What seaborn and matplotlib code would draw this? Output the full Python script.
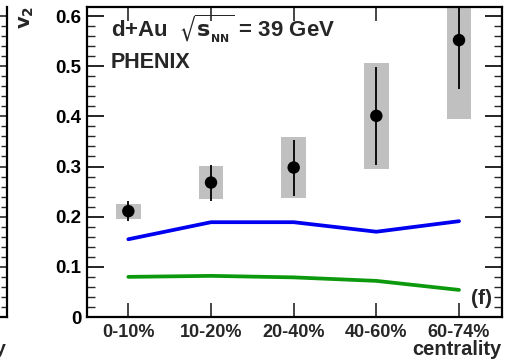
import matplotlib
matplotlib.use("Agg")
import matplotlib.pyplot as plt
import matplotlib.ticker as ticker
import seaborn as sns
import numpy as np
import pandas as pd

# data
centrality = ["0-10%", "10-20%", "20-40%", "40-60%", "60-74%"]
v2 = [0.211, 0.268, 0.298, 0.401, 0.552]
stat_lo = [0.191, 0.232, 0.241, 0.303, 0.454]
stat_hi = [0.232, 0.303, 0.353, 0.499, 0.650]
sys_lo = [0.196, 0.236, 0.238, 0.296, 0.394]
sys_hi = [0.225, 0.301, 0.359, 0.506, 0.710]
model_blue = [0.155, 0.189, 0.189, 0.170, 0.191]
model_green = [0.080, 0.082, 0.079, 0.072, 0.054]

xpos = np.arange(len(centrality))
df = pd.DataFrame({"x": xpos, "v2": v2, "blue": model_blue, "green": model_green})

sns.set_theme(style="ticks")
plt.rcParams["font.family"] = ["Liberation Sans", "DejaVu Sans"]
plt.rcParams["font.weight"] = "bold"

fig = plt.figure(figsize=(5.06, 3.61), dpi=100)
W, H = 506, 361
ax = fig.add_axes([87 / W, 1 - 317 / H, (502 - 87) / W, (317 - 7) / H])

# systematic boxes
ax.bar(xpos, np.array(sys_hi) - np.array(sys_lo), bottom=sys_lo, width=0.3,
       color="#c0c0c0", linewidth=0, zorder=1)
# stat errors
ax.vlines(xpos, stat_lo, stat_hi, color="black", linewidth=1.3, zorder=3)

sns.lineplot(data=df, x="x", y="blue", color="#0000f0", linewidth=2.7, ax=ax, zorder=2)
sns.lineplot(data=df, x="x", y="green", color="#0d990d", linewidth=2.7, ax=ax, zorder=2)
sns.scatterplot(data=df, x="x", y="v2", color="black", s=80, edgecolor="none", ax=ax, zorder=4)

ax.set_xlim(-0.5, 4.52)
ax.set_ylim(0, 0.618)
ax.set_xlabel("")
ax.set_ylabel("")
ax.set_xticks(xpos)
ax.set_xticklabels(centrality, fontsize=13, fontweight="bold")
ax.yaxis.set_major_locator(ticker.MultipleLocator(0.1))
ax.yaxis.set_minor_locator(ticker.MultipleLocator(0.02))
ax.yaxis.set_major_formatter(ticker.FuncFormatter(lambda v, p: "0" if abs(v) < 1e-9 else f"{v:.1f}"))
for lab in ax.get_yticklabels():
    lab.set_fontweight("bold")
ax.tick_params(axis="y", which="major", direction="in", length=12, width=1.2,
               left=True, right=True, labelsize=13.5, pad=4, colors="black")
ax.tick_params(axis="y", which="minor", direction="in", length=6, width=1.0,
               left=True, right=True)
ax.tick_params(axis="x", which="major", direction="in", length=10, width=1.2,
               bottom=True, top=True, labelsize=13, pad=5)
for sp in ax.spines.values():
    sp.set_linewidth(1.6)
    sp.set_color("black")

ax.text(0.058, 0.93, r"d+Au  $\mathbf{\sqrt{s_{_{NN}}}}$ = 39 GeV", transform=ax.transAxes,
        fontsize=16, fontweight="bold", va="center")
ax.text(0.058, 0.82, "PHENIX", transform=ax.transAxes, fontsize=15.5,
        fontweight="bold", va="center")
ax.text(0.975, 0.06, "(f)", transform=ax.transAxes, fontsize=15,
        fontweight="bold", ha="right", va="center")
fig.text(502 / W, 1 - 355 / H, "centrality", fontsize=14.5, fontweight="bold",
         ha="right", va="baseline")
fig.text(27 / W, 1 - 17 / H, r"$\mathbf{v_2}$", fontsize=14, rotation=90,
         ha="center", va="center")

# edge of neighbouring panel
ax2 = fig.add_axes([-60 / W, 1 - 317 / H, 67 / W, (317 - 7) / H])
ax2.set_ylim(0, 0.618)
ax2.set_xlim(0, 1)
ax2.yaxis.set_major_locator(ticker.MultipleLocator(0.1))
ax2.yaxis.set_minor_locator(ticker.MultipleLocator(0.02))
ax2.tick_params(axis="y", which="major", direction="in", length=7, width=1.2,
                left=False, right=True, labelleft=False, labelright=False)
ax2.tick_params(axis="y", which="minor", direction="in", length=4, width=1.0,
                left=False, right=True)
ax2.set_xticks([])
for name, sp in ax2.spines.items():
    sp.set_visible(name in ("right", "bottom"))
    sp.set_linewidth(1.6)
    sp.set_color("black")
fig.text(0, 1 - 298 / H, ")", fontsize=14, fontweight="bold", ha="right", va="center")
fig.text(6 / W, 1 - 350 / H, "y", fontsize=14, fontweight="bold", ha="right", va="center")

fig.savefig("out.png", dpi=100)
